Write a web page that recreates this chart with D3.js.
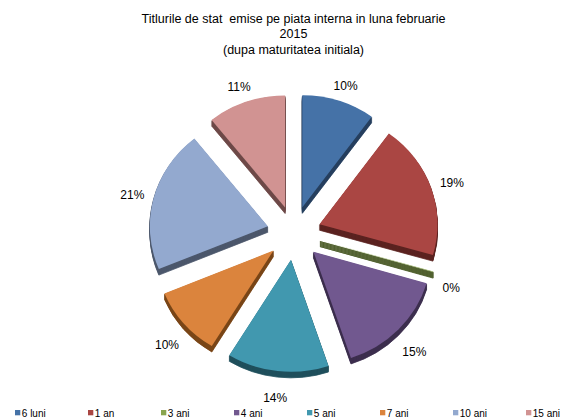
<!DOCTYPE html>
<html lang="ro">
  <head>
    <meta charset="UTF-8" />
    <title>Titlurile de stat</title>
    <style>
      body {
        margin: 0;
        background: #fff;
      }
      text {
        font-family: "Liberation Sans", Arial, sans-serif;
        fill: #000;
      }
    </style>
  </head>
  <body>
    <svg id="chart"></svg>
    <script src="https://cdnjs.cloudflare.com/ajax/libs/d3/7.4.4/d3.min.js"></script>
    <script>
      const categories = ["6 luni", "1 an", "3 ani", "4 ani", "5 ani", "7 ani", "10 ani", "15 ani"];
      const values = [10.0, 19.45, 0.1, 15.3, 13.9, 10.0, 20.55, 10.7];
      const colors = ["#4572A7", "#AA4643", "#89A54E", "#71588F", "#4198AF", "#DB843D", "#93A9CF", "#D19392"];
      const sideColors = ["#263f5e", "#5c2321", "#4a5a27", "#3c2e4e", "#1f4f5c", "#7a4618", "#4c586c", "#6e4a49"];
      const titleLines = ["Titlurile de stat  emise pe piata interna in luna februarie", "2015", "(dupa maturitatea initiala)"];

      const W = 574, H = 419;
      const cx = 294, cy = 233, rx = 118, ry = 112;
      const explode = 27, depth = 6;
      const k = ry / rx;

      const svg = d3.select("#chart").attr("width", W).attr("height", H);

      // title
      svg.append("text")
        .attr("x", 293.5)
        .attr("y", 22.7)
        .attr("text-anchor", "middle")
        .style("font-size", "12.5px")
        .style("white-space", "pre")
        .selectAll("tspan")
        .data(titleLines)
        .join("tspan")
        .attr("x", 293.5)
        .attr("dy", (d, i) => (i === 0 ? 0 : 15.4))
        .text((d) => d);

      const total = d3.sum(values);
      const pie = d3.pie().sort(null).value((d) => d);
      const arcs = pie(values);
      const arc = d3.arc().innerRadius(0).outerRadius(rx);
      const mid = (d) => (d.startAngle + d.endAngle) / 2;

      const slices = svg.append("g").selectAll("g")
        .data(arcs)
        .join("g")
        .attr("transform", (d) => {
          const a = mid(d);
          return `translate(${cx + explode * Math.sin(a)},${cy - explode * Math.cos(a)})`;
        });

      // extruded side, then the top face
      slices.each(function (d, i) {
        const g = d3.select(this);
        for (let j = depth; j >= 1; j--) {
          g.append("path")
            .attr("transform", `translate(0,${j}) scale(1,${k})`)
            .attr("d", arc(d))
            .attr("fill", sideColors[i])
            .attr("stroke", sideColors[i])
            .attr("stroke-width", 0.8)
            .attr("vector-effect", "non-scaling-stroke");
        }
        g.append("path")
          .attr("transform", `scale(1,${k})`)
          .attr("d", arc(d))
          .attr("fill", colors[i]);
      });

      // percent labels, box placed just outside the slice edge
      const gap = 10, boxH = 12;
      svg.append("g").selectAll("text")
        .data(arcs)
        .join("text")
        .attr("text-anchor", "middle")
        .style("font-size", "12px")
        .text((d) => Math.round((d.value / total) * 100) + "%")
        .each(function (d) {
          const a = mid(d), s = Math.sin(a), c = Math.cos(a);
          const w = this.getComputedTextLength();
          let px = cx + (explode + rx) * s;
          let py = cy - explode * c - ry * c + (c < 0 ? depth + 5 : 0);
          px += (w / 2 + gap) * s;
          py -= (boxH / 2 + gap) * c;
          d3.select(this).attr("x", px).attr("y", py + 4.3);
        });

      // legend
      const lx = d3.scalePoint().domain(categories).range([15, 526]);
      const legend = svg.append("g").selectAll("g")
        .data(categories)
        .join("g")
        .attr("transform", (d) => `translate(${lx(d)},410)`);
      legend.append("rect")
        .attr("width", 5.3)
        .attr("height", 5.3)
        .attr("fill", (d, i) => colors[i]);
      legend.append("text")
        .attr("x", 6.8)
        .attr("y", 6.9)
        .style("font-size", "10px")
        .text((d) => d);
    </script>
  </body>
</html>
